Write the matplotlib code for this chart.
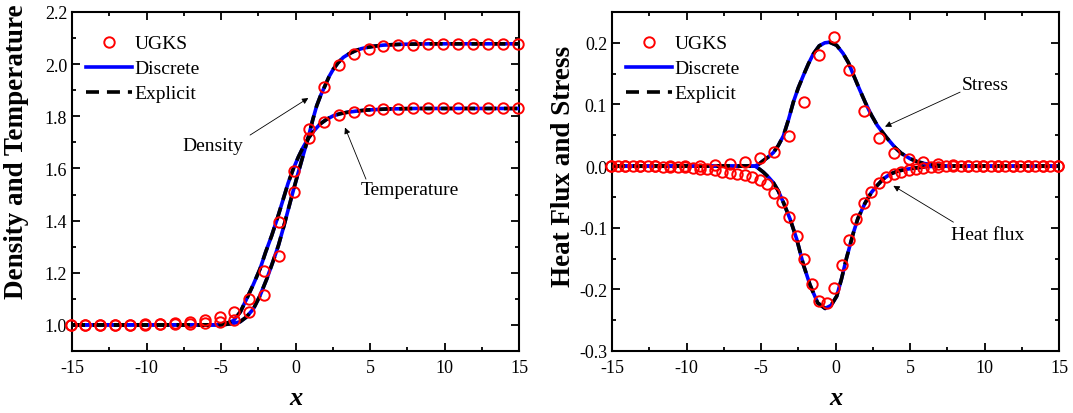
import matplotlib
matplotlib.use("Agg")
import matplotlib.pyplot as plt
from matplotlib.ticker import MultipleLocator, FormatStrFormatter

plt.rcParams['font.family'] = ['Liberation Serif', 'DejaVu Serif']
plt.rcParams['axes.unicode_minus'] = False

# ---- left panel: density / temperature ----
ugks_x = [-15.1, -14.1, -13.1, -12.1, -11.1, -10.1, -9.1, -8.1, -7.1, -6.1,
          -5.1, -4.1, -3.1, -2.1, -1.1, -0.1, 0.9, 1.9, 2.9, 3.9,
          4.9, 5.9, 6.9, 7.9, 8.9, 9.9, 10.9, 11.9, 12.9, 13.9, 14.9]
ugks_density = [1.0, 1.0, 1.0, 1.0, 1.0, 1.001, 1.002, 1.002, 1.004, 1.008,
                1.013, 1.017, 1.049, 1.115, 1.266, 1.511, 1.751, 1.911, 1.997, 2.038,
                2.057, 2.068, 2.073, 2.075, 2.076, 2.077, 2.078, 2.078, 2.078, 2.078, 2.078]
ugks_temperature = [1.0, 1.0, 1.0, 1.0, 1.0, 1.003, 1.004, 1.006, 1.013, 1.019,
                    1.029, 1.051, 1.100, 1.208, 1.396, 1.591, 1.715, 1.777, 1.806, 1.817,
                    1.824, 1.828, 1.829, 1.830, 1.830, 1.830, 1.830, 1.830, 1.830, 1.830, 1.830]

dens_x = [-15, -6, -5.2, -4.8, -4.4, -4.0, -3.72, -3.3, -2.83, -2.4, -1.93, -1.5,
          -1.15, -0.8, -0.48, -0.15, 0.19, 0.5, 0.85, 1.15, 1.42, 1.7, 1.98, 2.25,
          2.54, 2.85, 3.21, 3.6, 4.0, 4.4, 4.78, 5.3, 5.89, 7, 9, 15]
dens_y = [1.0, 1.0, 1.0, 1.001, 1.004, 1.008, 1.012, 1.030, 1.061, 1.110, 1.176, 1.245,
          1.304, 1.375, 1.444, 1.515, 1.585, 1.648, 1.717, 1.785, 1.840, 1.882, 1.917, 1.952,
          1.981, 2.005, 2.026, 2.040, 2.051, 2.059, 2.064, 2.069, 2.073, 2.076, 2.078, 2.078]

temp_x = [-15, -6, -5.3, -5.0, -4.6, -4.17, -3.7, -3.28, -2.83, -2.38, -2.0, -1.6,
          -1.2, -0.82, -0.5, -0.15, 0.2, 0.5, 0.85, 1.2, 1.64, 2.1, 2.54, 3.0,
          3.44, 4.1, 4.78, 6.1, 8, 15]
temp_y = [1.0, 1.0, 1.0, 1.002, 1.007, 1.016, 1.050, 1.100, 1.155, 1.215, 1.280, 1.342,
          1.412, 1.483, 1.543, 1.598, 1.645, 1.680, 1.715, 1.742, 1.770, 1.789, 1.802, 1.810,
          1.815, 1.820, 1.824, 1.828, 1.830, 1.830]

# ---- right panel: stress / heat flux ----
ugks_stress = [0, 0, 0, 0, 0, 0, 0, 0.002, 0.004, 0.007,
               0.0125, 0.023, 0.049, 0.104, 0.181, 0.209, 0.156, 0.090, 0.046, 0.022,
               0.012, 0.006, 0.003, 0.001, 0, 0, 0, 0, 0, 0, 0]
ugks_x_half = [-15.1, -14.6, -14.1, -13.6, -13.1, -12.6, -12.1, -11.6, -11.1, -10.6,
               -10.1, -9.6, -9.1, -8.6, -8.1, -7.6, -7.1, -6.6, -6.1, -5.6,
               -5.1, -4.6, -4.1, -3.6, -3.1, -2.6, -2.1, -1.6, -1.1, -0.6,
               -0.1, 0.4, 0.9, 1.4, 1.9, 2.4, 2.9, 3.4, 3.9, 4.4,
               4.9, 5.4, 5.9, 6.4, 6.9, 7.4, 7.9, 8.4, 8.9, 9.4,
               9.9, 10.4, 10.9, 11.4, 11.9, 12.4, 12.9, 13.4, 13.9, 14.4, 14.9]
ugks_heatflux = [0, 0, 0, 0, 0, 0, 0, -0.001, -0.001, -0.002,
                 -0.002, -0.003, -0.004, -0.005, -0.007, -0.009, -0.011, -0.013, -0.015, -0.018,
                 -0.023, -0.029, -0.043, -0.059, -0.083, -0.114, -0.151, -0.192, -0.219, -0.222,
                 -0.197, -0.160, -0.120, -0.086, -0.060, -0.042, -0.028, -0.018, -0.013, -0.009,
                 -0.006, -0.004, -0.003, -0.002, -0.001, 0, 0, 0, 0, 0,
                 0, 0, 0, 0, 0, 0, 0, 0, 0, 0, 0]

stress_x = [-15, -5.4, -5.1, -4.84, -4.5, -4.17, -3.85, -3.5, -3.15, -2.83, -2.5, -2.16,
            -1.82, -1.49, -1.1, -0.72, -0.4, 0.07, 0.5, 0.86, 1.2, 1.6, 2.0, 2.4,
            2.8, 3.4, 4.0, 4.4, 5.0, 5.5, 6.0, 6.6, 7.5, 15]
stress_y = [0, 0, 0.004, 0.009, 0.015, 0.022, 0.033, 0.049, 0.076, 0.104, 0.127, 0.147,
            0.166, 0.182, 0.195, 0.200, 0.201, 0.196, 0.183, 0.168, 0.148, 0.125, 0.103, 0.083,
            0.066, 0.047, 0.030, 0.021, 0.012, 0.007, 0.004, 0.002, 0.0, 0]

heat_x = [-15, -5.4, -5.1, -4.84, -4.5, -4.17, -3.85, -3.5, -3.05, -2.6, -2.16, -1.71,
          -1.2, -0.7, -0.3, 0.08, 0.4, 0.75, 1.2, 1.5, 1.98, 2.4, 2.77, 3.2,
          3.66, 4.2, 4.78, 5.4, 6.1, 7.0, 15]
heat_y = [0, 0, -0.005, -0.010, -0.018, -0.027, -0.040, -0.059, -0.086, -0.119, -0.160, -0.193,
          -0.222, -0.231, -0.226, -0.211, -0.183, -0.148, -0.108, -0.085, -0.060, -0.043, -0.032, -0.021,
          -0.013, -0.008, -0.005, -0.003, -0.001, 0, 0]

fig = plt.figure(figsize=(10.73, 4.14), dpi=100)
ax1 = fig.add_axes([0.0671, 0.1498, 0.4166, 0.8188])
ax2 = fig.add_axes([0.5704, 0.1498, 0.4166, 0.8188])

circ = dict(ls='none', marker='o', ms=7.5, mfc='none', mec='red', mew=1.4, clip_on=False, zorder=5)
blue = dict(color='blue', lw=2.6, zorder=3)
black = dict(color='black', lw=2.6, dashes=(3.6, 2.2), zorder=4)

# left
ax1.plot(ugks_x, ugks_density, label='UGKS', **circ)
ax1.plot(ugks_x, ugks_temperature, **circ)
ax1.plot(dens_x, dens_y, label='Discrete', **blue)
ax1.plot(temp_x, temp_y, **blue)
ax1.plot(dens_x, dens_y, label='Explicit', **black)
ax1.plot(temp_x, temp_y, **black)
ax1.set_xlim(-15, 15)
ax1.set_ylim(0.9, 2.2)
ax1.set_yticks([1.0, 1.2, 1.4, 1.6, 1.8, 2.0, 2.2])
ax1.yaxis.set_minor_locator(MultipleLocator(0.1))
ax1.set_ylabel('Density and Temperature', fontsize=19.5, fontweight='bold', labelpad=11)
ax1.yaxis.label.set_y(0.59)

arrow = dict(arrowstyle='-|>', color='black', lw=0.6, mutation_scale=9, shrinkA=0, shrinkB=0)
ax1.annotate('', xy=(0.86, 1.870), xytext=(-3.05, 1.728), arrowprops=arrow)
ax1.text(-5.54, 1.687, 'Density', fontsize=14, ha='center', va='center')
ax1.annotate('', xy=(3.32, 1.757), xytext=(4.73, 1.559), arrowprops=arrow)
ax1.text(7.68, 1.521, 'Temperature', fontsize=14, ha='center', va='center')

# right
ax2.plot(ugks_x, ugks_stress, label='UGKS', **circ)
ax2.plot(ugks_x_half, ugks_heatflux, **circ)
ax2.plot(stress_x, stress_y, label='Discrete', **blue)
ax2.plot(heat_x, heat_y, **blue)
ax2.plot(stress_x, stress_y, label='Explicit', **black)
ax2.plot(heat_x, heat_y, **black)
ax2.set_xlim(-15, 15)
ax2.set_ylim(-0.3, 0.25)
ax2.set_yticks([-0.3, -0.2, -0.1, 0.0, 0.1, 0.2])
ax2.yaxis.set_minor_locator(MultipleLocator(0.05))
ax2.set_ylabel('Heat Flux and Stress', fontsize=19.5, fontweight='bold', labelpad=2)
ax2.yaxis.label.set_y(0.546)

ax2.annotate('', xy=(3.32, 0.064), xytext=(8.36, 0.120), arrowprops=arrow)
ax2.text(10.08, 0.132, 'Stress', fontsize=14, ha='center', va='center')
ax2.annotate('', xy=(3.88, -0.032), xytext=(7.91, -0.091), arrowprops=arrow)
ax2.text(10.19, -0.111, 'Heat flux', fontsize=14, ha='center', va='center')

for ax in (ax1, ax2):
    ax.xaxis.set_major_locator(MultipleLocator(5))
    ax.xaxis.set_minor_locator(MultipleLocator(2.5))
    ax.tick_params(which='both', direction='in', top=True, right=True, labelsize=13, width=1.3)
    ax.tick_params(which='major', length=6)
    ax.tick_params(which='minor', length=3)
    ax.tick_params(axis='x', which='major', pad=6)
    ax.yaxis.set_major_formatter(FormatStrFormatter('%.1f'))
    for s in ax.spines.values():
        s.set_linewidth(1.5)
    ax.set_xlabel('x', fontsize=19, fontweight='bold', fontstyle='italic', labelpad=7)
    ax.legend(loc='upper left', bbox_to_anchor=(0.0, 0.973), frameon=False, fontsize=14,
              handlelength=2.4, handletextpad=0.1, labelspacing=0.38, borderaxespad=0.3)

fig.savefig('out.png', dpi=100)
